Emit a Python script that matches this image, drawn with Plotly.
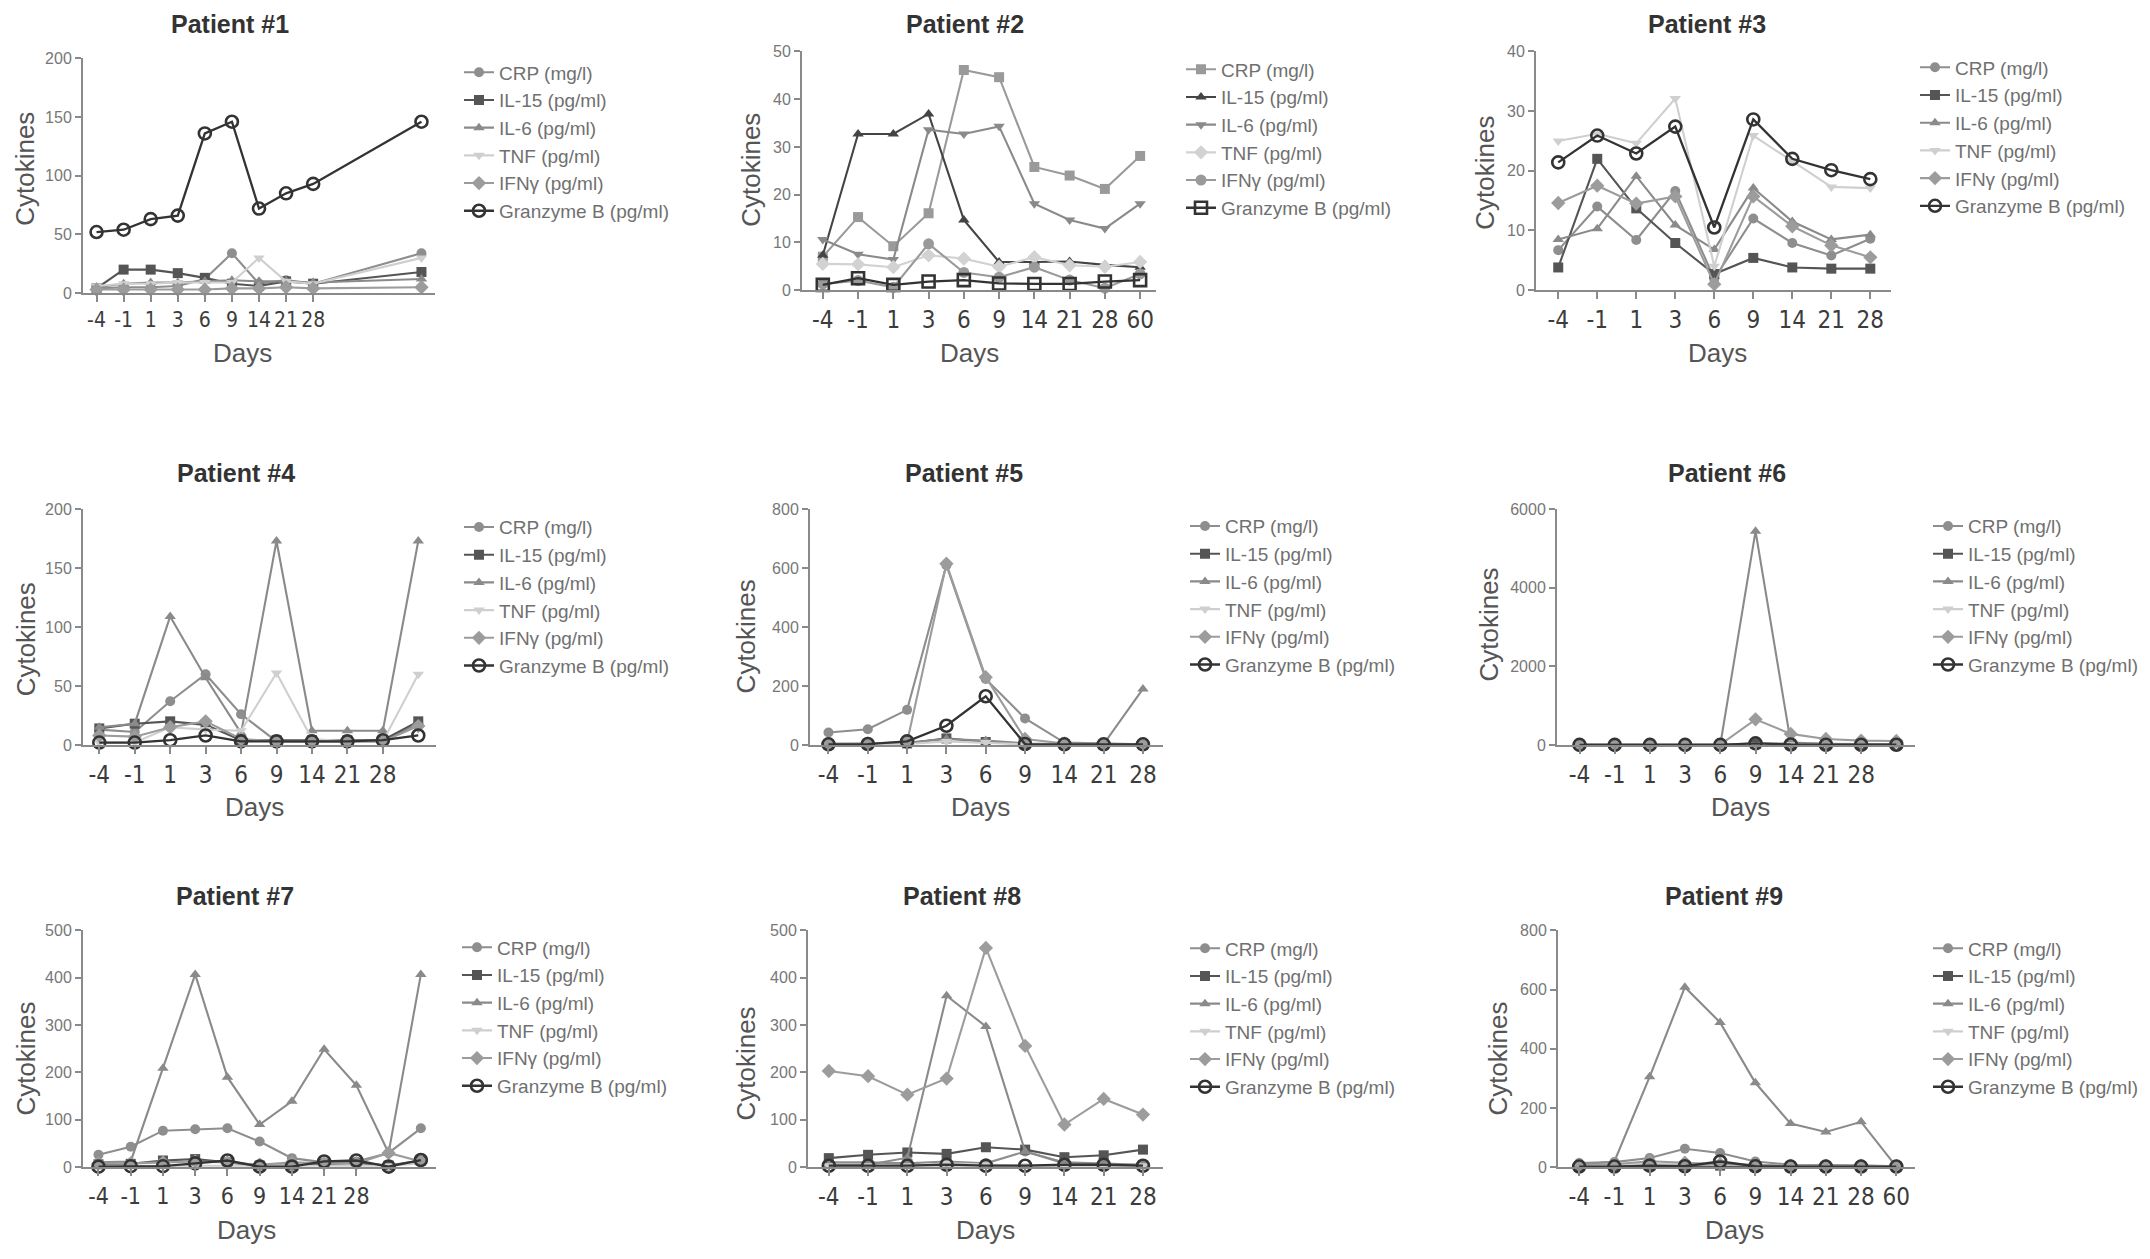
import plotly.graph_objects as go

W, H = 2150, 1259

# ---------------- data ----------------
day_labels = ["-4", "-1", "1", "3", "6", "9", "14", "21", "28"]
day_labels_60 = ["-4", "-1", "1", "3", "6", "9", "14", "21", "28", "60"]
series_names = ["CRP (mg/l)", "IL-15 (pg/ml)", "IL-6 (pg/ml)", "TNF (pg/ml)",
                "IFNγ (pg/ml)", "Granzyme B (pg/ml)"]

# Patient 1 (last sample plotted further right, unlabeled)
p1_x = [0, 1, 2, 3, 4, 5, 6, 7, 8, 12]
p1_crp = [4, 5, 5, 6, 12, 34, 8, 11, 8, 34]
p1_il15 = [4, 20, 20, 17, 13, 8, 6, 10, 8, 18]
p1_il6 = [5, 8, 9, 9, 10, 11, 10, 10, 9, 12]
p1_tnf = [6, 8, 8, 9, 9, 9, 30, 10, 8, 30]
p1_ifng = [3, 3, 3, 3, 3, 4, 4, 5, 4, 5]
p1_gzb = [52, 54, 63, 66, 136, 146, 72, 85, 93, 146]

# Patient 2
p2_x = [0, 1, 2, 3, 4, 5, 6, 7, 8, 9]
p2_crp = [7, 15.3, 9.2, 16.1, 46.1, 44.6, 25.8, 24, 21.2, 28.1]
p2_il15 = [7.3, 32.7, 32.7, 36.9, 14.7, 5.9, 5.9, 6, 5.3, 4.8]
p2_il6 = [10.6, 7.5, 6.4, 33.6, 32.7, 34.3, 18.1, 14.7, 12.9, 18.1]
p2_tnf = [5.5, 5.4, 4.8, 7.3, 6.6, 4.9, 6.9, 5.2, 4.9, 5.9]
p2_ifng = [1.3, 2, 0.6, 9.7, 3.7, 2.7, 4.8, 2.1, 0.4, 3.4]
p2_gzb = [1.1, 2.5, 1.1, 1.8, 2.1, 1.4, 1.3, 1.3, 1.8, 2.1]

# Patient 3
p3_x = [0, 1, 2, 3, 4, 5, 6, 7, 8]
p3_crp = [6.7, 14, 8.4, 16.6, 1.9, 12, 7.9, 5.8, 8.6]
p3_il15 = [3.8, 22, 13.7, 7.9, 2.7, 5.4, 3.8, 3.6, 3.6]
p3_il6 = [8.5, 10.3, 19.1, 10.9, 6.8, 17.1, 11.5, 8.5, 9.3]
p3_tnf = [25, 26.2, 24.6, 32.1, 4, 25.9, 21.6, 17.3, 17.1]
p3_ifng = [14.6, 17.5, 14.5, 15.7, 1, 15.7, 10.7, 7.5, 5.5]
p3_gzb = [21.4, 25.9, 22.9, 27.4, 10.5, 28.6, 22, 20.1, 18.6]

# Patient 4
p4_x = [0, 1, 2, 3, 4, 5, 6, 7, 8, 9]
p4_crp = [13, 11, 37, 60, 26, 3, 3, 3, 3, 18]
p4_il15 = [14, 18, 20, 17, 4, 4, 4, 4, 4, 20]
p4_il6 = [15, 18, 109, 57, 10, 173, 12, 12, 12, 173]
p4_tnf = [2, 2, 15, 13, 12, 61, 5, 3, 3, 60]
p4_ifng = [8, 7, 15, 20, 5, 3, 3, 3, 3, 16]
p4_gzb = [2, 2, 4, 8, 3, 3, 3, 3, 4, 8]

# Patient 5
p5_x = [0, 1, 2, 3, 4, 5, 6, 7, 8]
p5_crp = [42, 53, 119, 610, 224, 90, 8, 5, 2]
p5_il15 = [3, 3, 5, 22, 10, 3, 2, 2, 2]
p5_il6 = [3, 3, 8, 20, 15, 5, 3, 3, 190]
p5_tnf = [2, 2, 3, 12, 8, 2, 2, 2, 2]
p5_ifng = [5, 5, 10, 615, 230, 20, 5, 3, 2]
p5_gzb = [2, 3, 12, 65, 165, 3, 2, 2, 2]

# Patient 6
p6_x = [0, 1, 2, 3, 4, 5, 6, 7, 8, 9]
p6_crp = [5, 5, 5, 5, 5, 40, 40, 30, 20, 20]
p6_il15 = [2, 2, 2, 2, 2, 20, 10, 5, 5, 5]
p6_il6 = [5, 5, 5, 5, 10, 5440, 60, 30, 20, 20]
p6_tnf = [2, 2, 2, 2, 2, 10, 5, 5, 5, 5]
p6_ifng = [5, 5, 5, 5, 10, 650, 280, 150, 110, 100]
p6_gzb = [2, 2, 2, 2, 2, 40, 10, 5, 5, 5]

# Patient 7
p7_x = [0, 1, 2, 3, 4, 5, 6, 7, 8, 9, 10]
p7_crp = [26, 43, 77, 80, 82, 54, 19, 10, 12, 30, 82]
p7_il15 = [6, 7, 14, 17, 10, 3.5, 3.5, 7, 9, 3.5, 14]
p7_il6 = [10, 12, 209, 407, 190, 90, 139, 249, 173, 30, 407]
p7_tnf = [3, 3, 3, 3, 2, 2, 2, 2, 2, 3, 8]
p7_ifng = [8, 8, 10, 12, 10, 5, 10, 8, 8, 30, 12]
p7_gzb = [1, 2, 2, 8, 14, 1, 1, 12, 14, 1, 15]

# Patient 8
p8_x = [0, 1, 2, 3, 4, 5, 6, 7, 8]
p8_crp = [10, 10, 8, 12, 8, 33, 10, 8, 5]
p8_il15 = [19, 26, 31, 28, 42, 37, 21, 25, 37]
p8_il6 = [5, 5, 20, 362, 297, 33, 8, 5, 5]
p8_tnf = [3, 3, 3, 8, 5, 3, 3, 3, 3]
p8_ifng = [203, 192, 153, 187, 463, 256, 90, 144, 111]
p8_gzb = [3, 3, 3, 5, 3, 3, 5, 5, 3]

# Patient 9
p9_x = [0, 1, 2, 3, 4, 5, 6, 7, 8, 9]
p9_crp = [14, 17, 31, 62, 48, 19, 8, 8, 6, 3]
p9_il15 = [3, 3, 5, 5, 5, 3, 3, 3, 3, 3]
p9_il6 = [8, 19, 305, 608, 489, 285, 147, 119, 153, 2]
p9_tnf = [5, 8, 12, 10, 8, 5, 3, 3, 3, 2]
p9_ifng = [8, 10, 20, 15, 10, 8, 5, 5, 5, 3]
p9_gzb = [2, 2, 5, 3, 19, 3, 2, 2, 2, 2]

y_max = [200, 50, 40, 200, 800, 6000, 500, 500, 800]
y_step = [50, 10, 10, 50, 200, 2000, 100, 100, 200]

# ---------------- styles ----------------
style_std = [
    dict(symbol="circle", color="#8e8e8e", size=10),
    dict(symbol="square", color="#555555", size=10),
    dict(symbol="triangle-up", color="#8a8a8a", size=10),
    dict(symbol="triangle-down", color="#cfcfcf", size=10),
    dict(symbol="diamond", color="#9c9c9c", size=11),
    dict(symbol="circle-open", color="#333333", size=12),
]
style_p2 = [
    dict(symbol="square", color="#9a9a9a", size=10),
    dict(symbol="triangle-up", color="#444444", size=10),
    dict(symbol="triangle-down", color="#8a8a8a", size=10),
    dict(symbol="diamond", color="#d2d2d2", size=11),
    dict(symbol="circle", color="#9a9a9a", size=11),
    dict(symbol="square-open", color="#333333", size=12),
]

panels = [
    dict(title="Patient #1", x=p1_x, ys=[p1_crp, p1_il15, p1_il6, p1_tnf, p1_ifng, p1_gzb], labels=day_labels),
    dict(title="Patient #2", x=p2_x, ys=[p2_crp, p2_il15, p2_il6, p2_tnf, p2_ifng, p2_gzb], labels=day_labels_60),
    dict(title="Patient #3", x=p3_x, ys=[p3_crp, p3_il15, p3_il6, p3_tnf, p3_ifng, p3_gzb], labels=day_labels),
    dict(title="Patient #4", x=p4_x, ys=[p4_crp, p4_il15, p4_il6, p4_tnf, p4_ifng, p4_gzb], labels=day_labels),
    dict(title="Patient #5", x=p5_x, ys=[p5_crp, p5_il15, p5_il6, p5_tnf, p5_ifng, p5_gzb], labels=day_labels),
    dict(title="Patient #6", x=p6_x, ys=[p6_crp, p6_il15, p6_il6, p6_tnf, p6_ifng, p6_gzb], labels=day_labels),
    dict(title="Patient #7", x=p7_x, ys=[p7_crp, p7_il15, p7_il6, p7_tnf, p7_ifng, p7_gzb], labels=day_labels),
    dict(title="Patient #8", x=p8_x, ys=[p8_crp, p8_il15, p8_il6, p8_tnf, p8_ifng, p8_gzb], labels=day_labels),
    dict(title="Patient #9", x=p9_x, ys=[p9_crp, p9_il15, p9_il6, p9_tnf, p9_ifng, p9_gzb], labels=day_labels_60),
]

# ---------------- geometry (pixels in 2150x1259 frame) ----------------
geo = [
    dict(x0=83, x1=435, top=51, bot=289, xr=[-0.5, 12.5], title=(230, 16), cyt=(25, 163), days=(242, 350), leg=(459, 46), tfs=21),
    dict(x0=802, x1=1156, top=44, bot=286, xr=[-0.59, 9.45], title=(965, 16), cyt=(751, 164), days=(969, 350), leg=(1181, 43), tfs=24),
    dict(x0=1536, x1=1891, top=44, bot=286, xr=[-0.57, 8.53], title=(1707, 16), cyt=(1485, 167), days=(1717, 350), leg=(1915, 41), tfs=24),
    dict(x0=83, x1=436, top=508, bot=747, xr=[-0.46, 9.5], title=(236, 471), cyt=(26, 640), days=(254, 810), leg=(459, 507), tfs=24),
    dict(x0=810, x1=1163, top=508, bot=747, xr=[-0.47, 8.51], title=(964, 471), cyt=(746, 637), days=(980, 810), leg=(1185, 506), tfs=24),
    dict(x0=1557, x1=1915, top=508, bot=747, xr=[-0.64, 9.53], title=(1727, 471), cyt=(1489, 625), days=(1740, 810), leg=(1928, 506), tfs=24),
    dict(x0=83, x1=436, top=935, bot=1175, xr=[-0.48, 10.47], title=(235, 900), cyt=(26, 1065), days=(246, 1239), leg=(457, 933), tfs=23),
    dict(x0=808, x1=1163, top=935, bot=1175, xr=[-0.53, 8.51], title=(962, 900), cyt=(746, 1070), days=(985, 1239), leg=(1185, 934), tfs=24),
    dict(x0=1558, x1=1915, top=935, bot=1175, xr=[-0.6, 9.53], title=(1724, 900), cyt=(1498, 1065), days=(1734, 1239), leg=(1928, 934), tfs=24),
]

FONT = "Arial, Liberation Sans, sans-serif"
TICKFONT = "Liberation Sans Narrow, Arial Narrow, DejaVu Sans Condensed, Arial, Liberation Sans, sans-serif"
AXC = "#8a8a8a"

fig = go.Figure()
layout = dict(
    width=W, height=H, autosize=False,
    margin=dict(l=0, r=0, t=0, b=0),
    paper_bgcolor="white", plot_bgcolor="white",
    font=dict(family=FONT),
    showlegend=True,
)
annotations = []

for i, (p, g) in enumerate(zip(panels, geo)):
    k = i + 1
    xs = "" if k == 1 else str(k)
    leg_id = "legend" if k == 1 else f"legend{k}"
    styles = style_p2 if k == 2 else style_std
    for j, (name, yv, st) in enumerate(zip(series_names, p["ys"], styles)):
        open_marker = st["symbol"].endswith("open")
        fig.add_trace(go.Scatter(
            x=p["x"], y=yv, name=name, mode="lines+markers",
            xaxis="x" + xs, yaxis="y" + xs,
            legend=leg_id, legendgroup=f"p{k}s{j}",
            cliponaxis=False,
            line=dict(color=st["color"], width=2.3 if open_marker else 2.1),
            marker=dict(symbol=st["symbol"], size=st["size"], color=st["color"],
                        line=dict(width=2.6 if open_marker else 0, color=st["color"])),
        ))
    n_ticks = len(p["labels"])
    layout["xaxis" + xs] = dict(
        domain=[g["x0"] / W, g["x1"] / W], range=g["xr"], anchor="y" + xs,
        tickmode="array", tickvals=list(range(n_ticks)), ticktext=p["labels"],
        tickangle=0,
        showline=True, linecolor=AXC, linewidth=2,
        ticks="outside", ticklen=7, tickwidth=2, tickcolor=AXC,
        tickfont=dict(size=g["tfs"], color="#3c3c3c", family=TICKFONT),
        ticklabelstandoff=0,
        showgrid=False, zeroline=False, fixedrange=True,
    )
    layout["yaxis" + xs] = dict(
        domain=[1 - g["bot"] / H, 1 - g["top"] / H], range=[0, y_max[i]], anchor="x" + xs,
        tickmode="linear", tick0=0, dtick=y_step[i],
        showline=True, linecolor=AXC, linewidth=2,
        ticks="outside", ticklen=6, tickwidth=2, tickcolor=AXC,
        tickfont=dict(size=16, color="#777777", family=FONT),
        showgrid=False, zeroline=False, fixedrange=True,
    )
    layout[leg_id] = dict(
        x=g["leg"][0] / W, y=1 - g["leg"][1] / H, xanchor="left", yanchor="top",
        font=dict(size=19, color="#707070", family=FONT),
        bgcolor="rgba(0,0,0,0)", tracegroupgap=0, itemwidth=30,
    )
    annotations.append(dict(
        text="<b>" + p["title"] + "</b>", x=g["title"][0] / W, y=1 - g["title"][1] / H,
        xref="paper", yref="paper", showarrow=False, xanchor="center", yanchor="middle",
        font=dict(size=25, color="#333333", family=FONT),
    ))
    annotations.append(dict(
        text="Cytokines", x=g["cyt"][0] / W, y=1 - g["cyt"][1] / H,
        xref="paper", yref="paper", showarrow=False, xanchor="center", yanchor="middle",
        textangle=-90, font=dict(size=26, color="#555555", family=FONT),
    ))
    annotations.append(dict(
        text="Days", x=g["days"][0] / W, y=1 - g["days"][1] / H,
        xref="paper", yref="paper", showarrow=False, xanchor="center", yanchor="middle",
        font=dict(size=26, color="#555555", family=FONT),
    ))

layout["annotations"] = annotations
fig.update_layout(**layout)
fig.write_html(
    "out.html",
    config={"displayModeBar": False},
    post_script="document.body.style.margin='0px';document.body.style.overflow='hidden';",
)
